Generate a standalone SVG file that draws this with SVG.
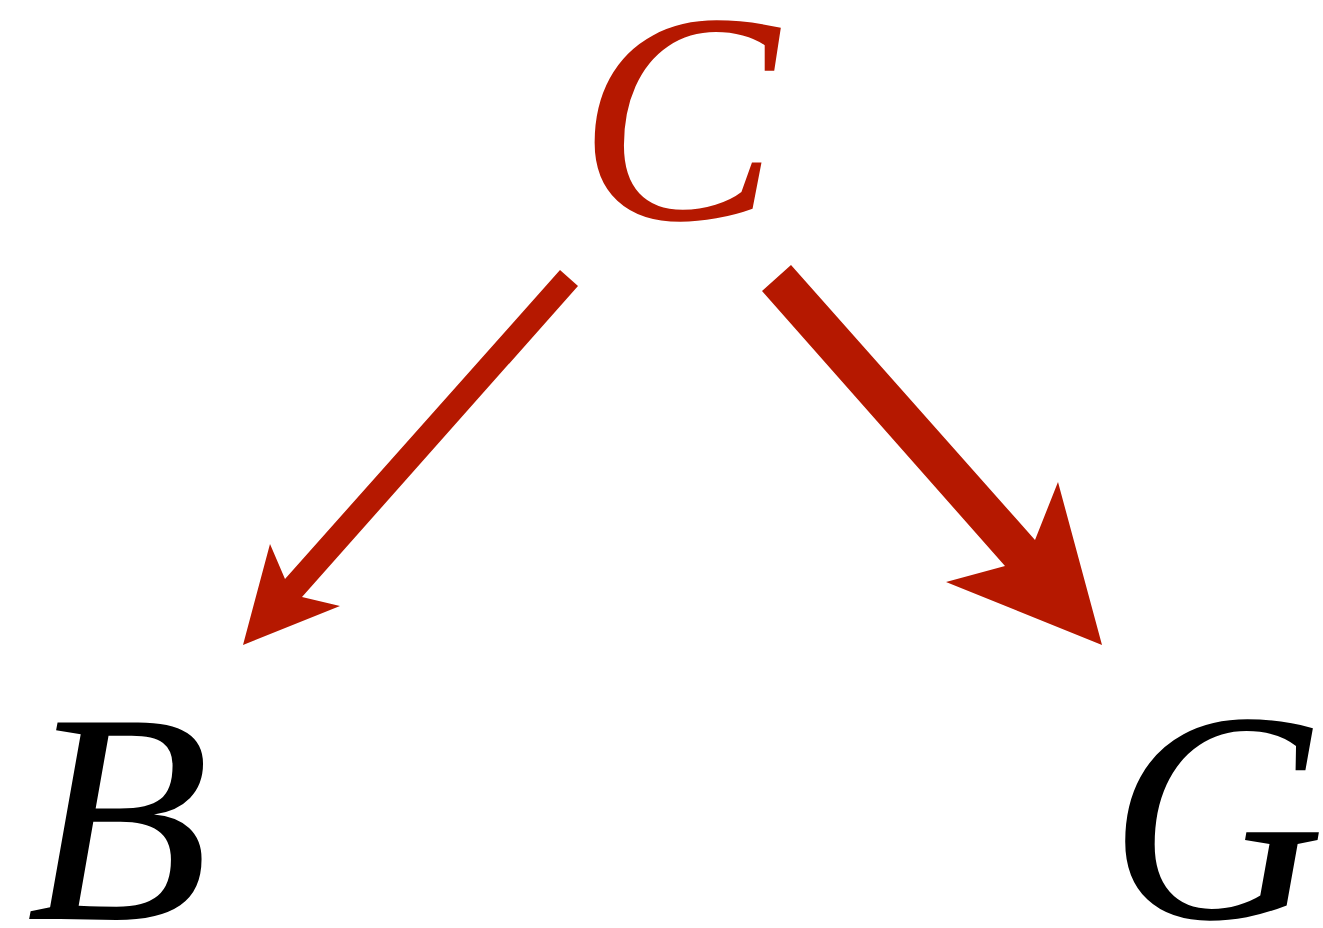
<svg xmlns="http://www.w3.org/2000/svg" width="1323" height="928" viewBox="0 0 1323 928">
<style>
.lbl{font-family:"Liberation Serif","Times New Roman",serif;font-style:italic;font-size:300px;text-anchor:middle}
.arr{fill:#b51800;stroke:none}
</style>
<rect width="1323" height="928" fill="#ffffff"/>
<g id="connectors">
<polygon class="arr" points="560,270 578,286 302,597 340,606 243,645 270,544 285,579"/>
<polygon class="arr" points="791,265 1035,540 1058,482 1102,645 946,582 1005,566 762,291"/>
</g>
<g id="node-C"><text class="lbl" x="678" y="219" fill="#b51800">C</text></g>
<g id="node-B"><text class="lbl" x="118" y="919" fill="#000000">B</text></g>
<g id="node-G"><text class="lbl" x="1217" y="918" fill="#000000">G</text></g>
</svg>
